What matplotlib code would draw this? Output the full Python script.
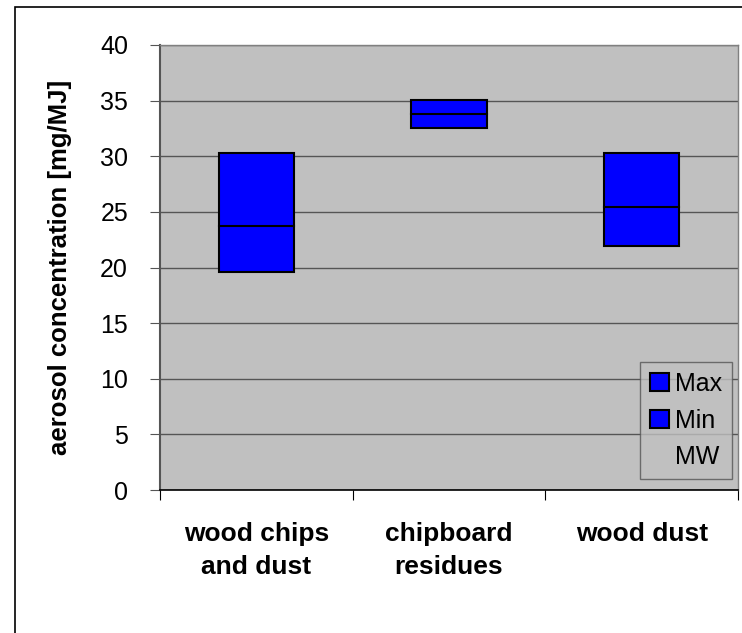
import matplotlib
matplotlib.use("Agg")
import matplotlib.pyplot as plt
from matplotlib.patches import Patch, Rectangle
import numpy as np

plt.rcParams['font.family'] = ['Liberation Sans', 'DejaVu Sans']

categories = ["wood chips\nand dust", "chipboard\nresidues", "wood dust"]
max_vals = [30.3, 35.1, 30.3]
min_vals = [19.6, 32.5, 21.9]
mw_vals = [23.7, 33.8, 25.4]
yticks = [0, 5, 10, 15, 20, 25, 30, 35, 40]

W, H = 742, 633
fig = plt.figure(figsize=(W/100, H/100), dpi=100)
fig.patch.set_facecolor('white')
# outer chart border (cut off at right and bottom)
fig.patches.append(Rectangle((15/W, -0.05), 1.2, (H-7)/H + 0.05, transform=fig.transFigure,
                             fill=False, edgecolor='black', linewidth=1.2))

ax = fig.add_axes([160/W, 1-490/H, (738-160)/W, (490-45)/H])
ax.set_facecolor('#C0C0C0')

x = np.arange(len(categories)) + 0.5
heights = [mx - mn for mx, mn in zip(max_vals, min_vals)]
ax.bar(x, heights, bottom=min_vals, width=0.39, color='#0000FF', edgecolor='black',
       linewidth=1.5, zorder=3)
for xi, m in zip(x, mw_vals):
    ax.plot([xi - 0.195, xi + 0.195], [m, m], color='black', linewidth=1.5, zorder=4)

ax.set_xlim(0, 3)
ax.set_ylim(0, 40)
ax.set_yticks(yticks)
ax.set_yticklabels([str(t) for t in yticks], fontsize=18)
ax.yaxis.grid(True, color='#555555', linewidth=1.0, zorder=0)
ax.set_axisbelow(True)

ax.set_xticks([0, 1, 2, 3])
ax.set_xticklabels([])
ax.set_xticks(x, minor=True)
ax.set_xticklabels(categories, minor=True, fontsize=19, fontweight='bold', linespacing=1.5)
ax.tick_params(axis='x', which='minor', length=0, pad=23)
ax.tick_params(axis='x', which='major', length=7, direction='out', color='black')
ax.tick_params(axis='y', length=7, direction='out', color='#555555', pad=16)

for s in ['top', 'right']:
    ax.spines[s].set_color('#808080')
    ax.spines[s].set_linewidth(1.0)
ax.spines['left'].set_color('#555555')
ax.spines['left'].set_linewidth(1.5)
ax.spines['bottom'].set_color('black')
ax.spines['bottom'].set_linewidth(1.2)

ax.set_ylabel("aerosol concentration [mg/MJ]", fontsize=18.5, fontweight='bold')
ax.yaxis.set_label_coords(-88/578, 0.5)

handles = [Patch(facecolor='#0000FF', edgecolor='black', linewidth=1.5),
           Patch(facecolor='#0000FF', edgecolor='black', linewidth=1.5),
           Patch(facecolor='none', edgecolor='none')]
leg = ax.legend(handles, ['Max', 'Min', 'MW'], loc='lower right',
                bbox_to_anchor=(1 - 6/578, 11/445), fontsize=18, frameon=True, fancybox=False,
                handlelength=0.75, handleheight=0.75, handletextpad=0.25,
                borderpad=0.4, labelspacing=0.5, borderaxespad=0.0)
leg.get_frame().set_facecolor('#C0C0C0')
leg.get_frame().set_edgecolor('#555555')
leg.get_frame().set_linewidth(1.0)

fig.savefig("out.png", dpi=100)
